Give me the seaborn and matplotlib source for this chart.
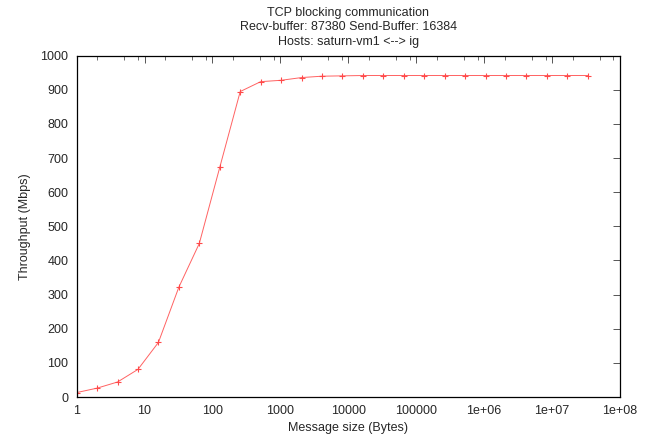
import matplotlib
matplotlib.use("Agg")
import matplotlib.pyplot as plt
import matplotlib.ticker as mticker
import pandas as pd
import seaborn as sns


TITLE_LINES = [
    "TCP blocking communication",
    "Recv-buffer: 87380 Send-Buffer: 16384",
    "Hosts: saturn-vm1 <--> ig",
]
X_LABEL = "Message size (Bytes)"
Y_LABEL = "Throughput (Mbps)"

# message sizes: powers of two from 1 B to 32 MB
message_sizes = [
    1, 2, 4, 8, 16, 32, 64, 128, 256, 512, 1024, 2048, 4096, 8192,
    16384, 32768, 65536, 131072, 262144, 524288, 1048576, 2097152,
    4194304, 8388608, 16777216, 33554432,
]
throughput = [
    13, 26, 44, 81, 160, 322, 450, 673, 895, 924, 928, 936, 940, 941,
    942, 942, 942, 942, 942, 942, 942, 942, 942, 942, 942, 942,
]

x_tick_values = [1, 10, 100, 1000, 10000, 100000, 1e6, 1e7, 1e8]
x_tick_labels = ["1", "10", "100", "1000", "10000", "100000",
                 "1e+06", "1e+07", "1e+08"]
y_tick_values = list(range(0, 1001, 100))


def main():
    sns.set_style("white")
    plt.rcParams["font.family"] = ["Liberation Sans", "DejaVu Sans"]
    plt.rcParams["font.size"] = 9

    df = pd.DataFrame({"size": message_sizes, "mbps": throughput})

    fig = plt.figure(figsize=(6.55, 4.37), dpi=100)
    ax = fig.add_axes([0.117, 0.0915, 0.8296, 0.781])

    sns.lineplot(
        data=df,
        x="size",
        y="mbps",
        ax=ax,
        color="#ff6262",
        linewidth=0.7,
        marker="+",
        markersize=5,
        markeredgewidth=0.8,
        markeredgecolor="#ff4a4a",
    )

    ax.set_xscale("log")
    ax.set_xlim(1, 1e8)
    ax.set_ylim(0, 1000)

    ax.set_xticks(x_tick_values)
    ax.set_xticklabels(x_tick_labels)
    ax.xaxis.set_minor_locator(mticker.LogLocator(base=10, subs=(2, 5, 8)))
    ax.xaxis.set_minor_formatter(mticker.NullFormatter())
    ax.set_yticks(y_tick_values)

    ax.tick_params(which="both", direction="in", top=True, right=True,
                   color="#555555", labelsize=9, pad=6)
    ax.tick_params(which="major", length=5, width=0.7)
    ax.tick_params(which="minor", length=3, width=0.6)

    for spine in ax.spines.values():
        spine.set_color("black")
        spine.set_linewidth(0.9)

    ax.set_xlabel(X_LABEL, fontsize=9, labelpad=3)
    ax.set_ylabel(Y_LABEL, fontsize=9, labelpad=7)
    ax.set_title("\n".join(TITLE_LINES), fontsize=9, linespacing=1.25, pad=8)

    fig.savefig("out.png", dpi=100)
    plt.close(fig)


if __name__ == "__main__":
    main()
